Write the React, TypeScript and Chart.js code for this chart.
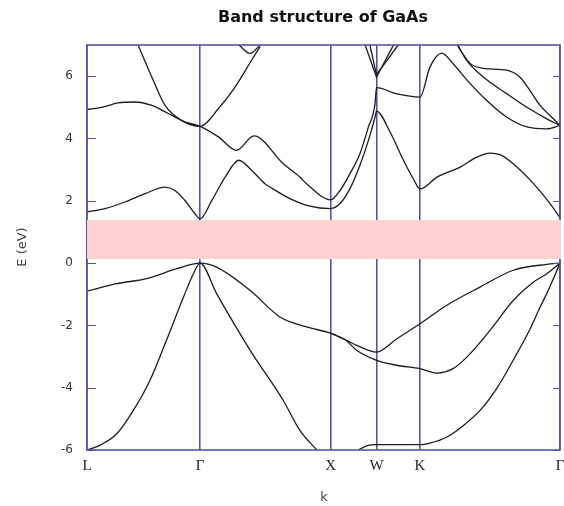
import React, { useEffect, useRef } from "react";
import { Chart, registerables } from "chart.js";

Chart.register(...registerables);

// High-symmetry points along the k path (fraction of path length)
const kTicks = [0, 0.239, 0.515, 0.612, 0.704, 1.0];
const kLabels = ["L", "Γ", "X", "W", "K", "Γ"];
const eTicks = [-6, -4, -2, 0, 2, 4, 6];
const eMin = -6;
const eMax = 7;
const gapBand = [0.13, 1.38];

type P = [number, number];

// Conduction bands
const cb1: P[] = [
  [0, 1.64], [0.038, 1.75], [0.08, 1.96], [0.123, 2.23], [0.165, 2.44], [0.186, 2.33],
  [0.207, 2.01], [0.228, 1.59], [0.239, 1.42], [0.264, 2.01], [0.292, 2.76], [0.321, 3.3],
  [0.348, 2.98], [0.376, 2.55], [0.387, 2.44], [0.429, 2.07], [0.471, 1.83], [0.515, 1.75],
  [0.535, 1.91], [0.556, 2.39], [0.577, 3.14], [0.595, 3.94], [0.609, 4.69], [0.612, 4.88],
  [0.641, 4.2], [0.669, 3.3], [0.69, 2.7], [0.704, 2.38], [0.74, 2.76], [0.789, 3.08],
  [0.824, 3.4], [0.852, 3.53], [0.873, 3.48], [0.901, 3.19], [0.944, 2.55], [0.979, 1.91],
  [1.0, 1.46],
];
const cb2: P[] = [
  [0, 4.93], [0.031, 5.0], [0.066, 5.14], [0.101, 5.17], [0.137, 5.06], [0.172, 4.8],
  [0.207, 4.53], [0.239, 4.39], [0.278, 4.05], [0.316, 3.62], [0.353, 4.08], [0.415, 3.19],
  [0.45, 2.76], [0.464, 2.55], [0.515, 2.03], [0.535, 2.33], [0.556, 2.87], [0.577, 3.51],
  [0.595, 4.37], [0.609, 5.12], [0.612, 5.63], [0.655, 5.43], [0.704, 5.33], [0.725, 6.29],
  [0.75, 6.74], [0.774, 6.4], [0.81, 5.76], [0.845, 5.22], [0.887, 4.69], [0.93, 4.37],
  [0.972, 4.31], [1.0, 4.42],
];
const cb3Left: P[] = [
  [0.108, 7.0], [0.137, 5.97], [0.165, 5.06], [0.2, 4.58], [0.239, 4.39], [0.278, 4.96],
  [0.313, 5.65], [0.348, 6.51], [0.366, 6.95],
];
const cbTopGX: P[] = [[0.321, 7.0], [0.345, 6.73], [0.366, 7.0]];
const cbW1: P[] = [[0.588, 7.0], [0.612, 5.97], [0.648, 7.0]];
const cbW2: P[] = [[0.598, 7.0], [0.612, 6.05], [0.658, 7.0]];
const cb3Right: P[] = [
  [0.784, 7.0], [0.803, 6.5], [0.838, 5.97], [0.887, 5.44], [0.93, 5.0], [0.972, 4.63], [1.0, 4.42],
];
const cb4Right: P[] = [
  [0.783, 7.0], [0.789, 6.84], [0.81, 6.41], [0.838, 6.25], [0.887, 6.19], [0.915, 5.97],
  [0.932, 5.64], [0.958, 5.06], [0.986, 4.63], [1.0, 4.42],
];

// Valence bands
const vb1: P[] = [
  [0, -0.9], [0.063, -0.66], [0.126, -0.5], [0.19, -0.18], [0.239, 0], [0.274, -0.13],
  [0.345, -0.88], [0.408, -1.73], [0.464, -2.05], [0.515, -2.25], [0.549, -2.48],
  [0.57, -2.64], [0.612, -2.86], [0.655, -2.43], [0.704, -1.95], [0.76, -1.36], [0.831, -0.77],
  [0.901, -0.23], [0.972, -0.04], [1.0, 0],
];
const vb2: P[] = [
  [0.515, -2.25], [0.549, -2.5], [0.57, -2.8], [0.612, -3.12], [0.655, -3.28], [0.704, -3.39],
  [0.739, -3.53], [0.774, -3.39], [0.803, -3.02], [0.852, -2.16], [0.901, -1.2], [0.944, -0.61],
  [0.972, -0.34], [1.0, 0],
];
const vb3: P[] = [
  [0, -6.0], [0.027, -5.85], [0.063, -5.48], [0.098, -4.73], [0.133, -3.77], [0.168, -2.48],
  [0.204, -1.09], [0.225, -0.34], [0.239, 0], [0.274, -0.98], [0.345, -2.8], [0.415, -4.41],
  [0.45, -5.37], [0.486, -6.0],
];
const vb4: P[] = [
  [0.574, -6.0], [0.591, -5.87], [0.612, -5.83], [0.704, -5.83], [0.725, -5.78], [0.76, -5.59],
  [0.796, -5.21], [0.831, -4.73], [0.866, -4.03], [0.901, -3.12], [0.937, -2.11], [0.958, -1.41],
  [0.972, -0.98], [1.0, 0],
];

const smoothBands = [cb1, cb2, cb3Left, cbTopGX, cb3Right, cb4Right, vb1, vb2, vb3, vb4];
const sharpBands = [cbW1, cbW2];

const FRAME = "#5454aa";
const LINE = "#1c1c1c";
const GAP = "#ffd2d2";
const SANS = "'DejaVu Sans', Verdana, sans-serif";

const decoPlugin = {
  id: "deco",
  afterDraw(chart: any) {
    const { ctx, chartArea: a, scales } = chart;
    const ys = scales.y;
    ctx.save();
    // frame
    ctx.strokeStyle = FRAME;
    ctx.lineWidth = 1.6;
    ctx.strokeRect(a.left, a.top, a.right - a.left, a.bottom - a.top);
    // inward ticks on left and right
    ctx.lineWidth = 1.2;
    for (const v of eTicks) {
      const py = Math.round(ys.getPixelForValue(v)) + 0.5;
      ctx.beginPath();
      ctx.moveTo(a.left, py);
      ctx.lineTo(a.left + 9, py);
      ctx.moveTo(a.right - 7, py);
      ctx.lineTo(a.right, py);
      ctx.stroke();
    }
    // band gap shading
    const t = ys.getPixelForValue(gapBand[1]);
    const b = ys.getPixelForValue(gapBand[0]);
    ctx.fillStyle = GAP;
    ctx.fillRect(a.left, t, a.right - a.left + 1, b - t);
    // title
    ctx.fillStyle = "#111";
    ctx.font = `bold 16px ${SANS}`;
    ctx.textAlign = "center";
    ctx.textBaseline = "middle";
    ctx.fillText("Band structure of GaAs", 323, 18);
    // axis titles
    ctx.fillStyle = "#444";
    ctx.font = `13px ${SANS}`;
    ctx.fillText("k", 324, 498);
    ctx.save();
    ctx.translate(23, 247);
    ctx.rotate(-Math.PI / 2);
    ctx.fillText("E (eV)", 0, 0);
    ctx.restore();
    ctx.restore();
  },
};

export default function App() {
  const ref = useRef<HTMLCanvasElement | null>(null);
  useEffect(() => {
    if (!ref.current) return;
    const mk = (pts: P[], sharp: boolean) => ({
      data: pts.map(([x, y]) => ({ x, y })),
      borderColor: LINE,
      borderWidth: 1.3,
      pointRadius: 0,
      fill: false,
      tension: 0,
      cubicInterpolationMode: sharp ? "default" : "monotone",
    });
    const chart = new Chart(ref.current, {
      type: "line",
      data: {
        datasets: [
          ...smoothBands.map((p) => mk(p, false)),
          ...sharpBands.map((p) => mk(p, true)),
        ] as any,
      },
      options: {
        animation: false,
        responsive: false,
        devicePixelRatio: 1,
        layout: { padding: { left: 0, right: 4, top: 45, bottom: 0 } },
        plugins: { legend: { display: false }, tooltip: { enabled: false }, title: { display: false } },
        scales: {
          x: {
            type: "linear",
            min: 0,
            max: 1,
            afterBuildTicks: (s: any) => {
              s.ticks = kTicks.map((v) => ({ value: v }));
            },
            afterFit: (s: any) => {
              s.height = 56;
              s.paddingLeft = 0;
              s.paddingRight = 0;
            },
            ticks: {
              autoSkip: false,
              maxRotation: 0,
              padding: 7,
              color: "#222",
              font: { family: "'Liberation Serif', 'Times New Roman', serif", size: 15 },
              callback: (_v: any, i: number) => kLabels[i],
            },
            grid: { color: FRAME, lineWidth: 1.6, drawTicks: false },
            border: { display: false },
          },
          y: {
            type: "linear",
            min: eMin,
            max: eMax,
            afterBuildTicks: (s: any) => {
              s.ticks = eTicks.map((v) => ({ value: v }));
            },
            afterFit: (s: any) => {
              s.width = 87;
              s.paddingTop = 0;
              s.paddingBottom = 0;
            },
            ticks: {
              padding: 14,
              color: "#333",
              font: { family: SANS, size: 12 },
            },
            grid: { display: false, drawTicks: false },
            border: { display: false },
          },
        },
      },
      plugins: [decoPlugin],
    } as any);
    return () => chart.destroy();
  }, []);
  return (
    <div style={{ position: "absolute", left: 0, top: 0, width: 564, height: 506, background: "#fff" }}>
      <canvas ref={ref} width={564} height={506} style={{ width: 564, height: 506 }} />
    </div>
  );
}
